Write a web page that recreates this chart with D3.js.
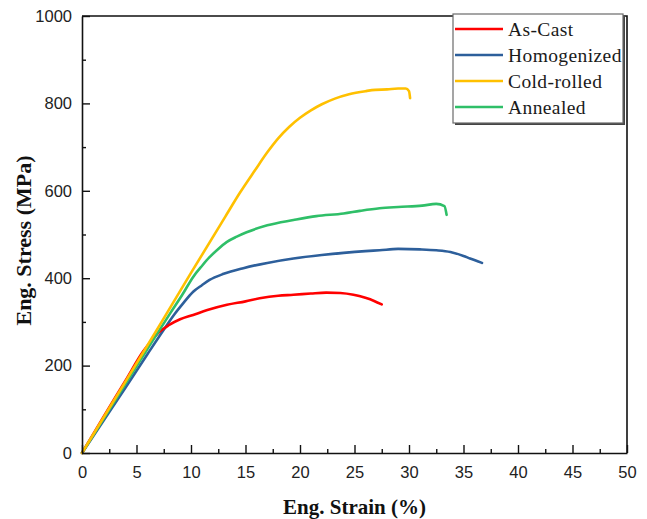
<!DOCTYPE html>
<html>
<head>
<meta charset="utf-8">
<script src="https://cdn.jsdelivr.net/npm/d3@7"></script>
<style>
  html, body { margin: 0; padding: 0; background: #fff; }
  svg { display: block; }
</style>
</head>
<body>
<svg id="chart" width="647" height="519"></svg>
<script>
// Engineering stress–strain curves for the four processing states
const seriesNames = ["As-Cast", "Homogenized", "Cold-rolled", "Annealed"];
const seriesColors = ["#ff0000", "#2d5f9b", "#ffc000", "#2fbf68"];

const asCastStrain = [0, 2, 4, 5.6, 6.4, 7.0, 8.0, 9.0, 10.2, 11.5, 13.3, 15.0, 16.3, 18.0, 19.4, 21.0, 22.4, 23.7, 24.9, 26.0, 26.8, 27.5];
const asCastStress = [0, 84, 166, 232, 258, 275, 293, 306, 316, 327, 339, 347, 354, 360, 362, 365, 367, 366, 362, 355, 348, 340];

const homogenizedStrain = [0, 2, 4, 6, 7.5, 8.5, 9.2, 10.2, 11.0, 11.7, 13.0, 14.8, 17.0, 19.4, 22.0, 24.0, 26.0, 27.3, 29.0, 31.0, 32.5, 33.8, 35.0, 35.6, 36.7];
const homogenizedStress = [0, 75, 150, 226, 282, 318, 340, 369, 384, 396, 410, 423, 435, 445, 453, 458, 462, 464, 467, 466, 464, 460, 451, 445, 435];

const coldRolledStrain = [0, 3, 6, 7.5, 10, 13.15, 14.5, 15.9, 17.0, 18.0, 19.0, 20.0, 21.0, 22.0, 23.2, 24.5, 26.0, 26.9, 28.0, 29.0, 29.7, 30.0, 30.1];
const coldRolledStress = [0, 123, 246, 308, 412, 541, 596, 648, 688, 720, 746, 767, 784, 798, 811, 821, 828, 831, 832, 834, 834, 828, 812];

const annealedStrain = [0, 3, 6, 8.1, 9.2, 10.2, 11.0, 11.7, 12.5, 13.3, 14.2, 15.1, 17.0, 19.4, 21.5, 24.0, 25.5, 27.3, 29.0, 31.2, 32.5, 33.25, 33.45];
const annealedStress = [0, 119, 238, 320, 362, 403, 428, 448, 467, 483, 495, 505, 521, 533, 542, 548, 554, 560, 563, 566, 570, 565, 545];

const xTicks = [0, 5, 10, 15, 20, 25, 30, 35, 40, 45, 50];
const yTicks = [0, 200, 400, 600, 800, 1000];
const xMinorTicks = [2.5, 7.5, 12.5, 17.5, 22.5, 27.5, 32.5, 37.5, 42.5, 47.5];
const yMinorTicks = [100, 300, 500, 700, 900];

const xTitle = "Eng. Strain (%)";
const yTitle = "Eng. Stress (MPa)";

const series = [
  { name: seriesNames[0], color: seriesColors[0], x: asCastStrain, y: asCastStress },
  { name: seriesNames[1], color: seriesColors[1], x: homogenizedStrain, y: homogenizedStress },
  { name: seriesNames[2], color: seriesColors[2], x: coldRolledStrain, y: coldRolledStress },
  { name: seriesNames[3], color: seriesColors[3], x: annealedStrain, y: annealedStress }
];

const plot = { left: 82, right: 627, top: 16, bottom: 453 };
const svg = d3.select("#chart");

const x = d3.scaleLinear().domain([0, 50]).range([plot.left, plot.right]);
const y = d3.scaleLinear().domain([0, 1000]).range([plot.bottom, plot.top]);

// Curves (drawn before the frame so the axes sit on top)
const line = d3.line().x(d => x(d[0])).y(d => y(d[1])).curve(d3.curveMonotoneX);
const drawOrder = [1, 0, 3, 2];
svg.append("g").attr("class", "curves")
  .selectAll("path")
  .data(drawOrder.map(i => series[i]))
  .join("path")
  .attr("d", s => line(s.x.map((v, i) => [v, s.y[i]])))
  .attr("fill", "none")
  .attr("stroke", s => s.color)
  .attr("stroke-width", 2.6)
  .attr("stroke-linejoin", "round")
  .attr("stroke-linecap", "round");

// Frame: top and right edges
svg.append("path")
  .attr("d", `M${plot.left},${plot.top}H${plot.right}V${plot.bottom}`)
  .attr("fill", "none").attr("stroke", "#111").attr("stroke-width", 1.6);

// Bottom axis, ticks pointing inward
const xAxis = svg.append("g").attr("transform", `translate(0,${plot.bottom})`)
  .call(d3.axisBottom(x).tickValues(xTicks).tickFormat(d3.format("d")).tickSize(-8).tickPadding(16).tickSizeOuter(0));
svg.append("g").attr("transform", `translate(0,${plot.bottom})`)
  .call(d3.axisBottom(x).tickValues(xMinorTicks).tickSize(-4).tickFormat("").tickSizeOuter(0))
  .select(".domain").remove();

// Left axis, ticks pointing inward
const yAxis = svg.append("g").attr("transform", `translate(${plot.left},0)`)
  .call(d3.axisLeft(y).tickValues(yTicks).tickFormat(d3.format("d")).tickSize(-8).tickPadding(10).tickSizeOuter(0));
svg.append("g").attr("transform", `translate(${plot.left},0)`)
  .call(d3.axisLeft(y).tickValues(yMinorTicks).tickSize(-4).tickFormat("").tickSizeOuter(0))
  .select(".domain").remove();

svg.selectAll(".domain").attr("stroke", "#111").attr("stroke-width", 1.6);
svg.selectAll(".tick line").attr("stroke", "#111").attr("stroke-width", 1.4);
svg.selectAll(".tick text")
  .attr("font-family", "'Liberation Sans', Arial, sans-serif")
  .attr("font-size", 16.5)
  .attr("fill", "#222");
xAxis.selectAll(".tick text").attr("dy", "0.55em");

// Axis titles
svg.append("text")
  .attr("x", (plot.left + plot.right) / 2)
  .attr("y", 514)
  .attr("text-anchor", "middle")
  .attr("font-family", "'Liberation Serif', 'Times New Roman', serif")
  .attr("font-weight", "bold")
  .attr("font-size", 21)
  .attr("fill", "#111")
  .text(xTitle);

svg.append("text")
  .attr("transform", `translate(31,${(plot.top + plot.bottom) / 2 + 6}) rotate(-90)`)
  .attr("text-anchor", "middle")
  .attr("font-family", "'Liberation Serif', 'Times New Roman', serif")
  .attr("font-weight", "bold")
  .attr("font-size", 22)
  .attr("fill", "#111")
  .text(yTitle);

// Legend box with a slight shadow on its right edge
const legend = svg.append("g").attr("class", "legend");
const lg = { x: 453, y: 14, w: 170, h: 109, row: 26 };
legend.append("rect")
  .attr("x", lg.x + 2).attr("y", lg.y + 2).attr("width", lg.w).attr("height", lg.h)
  .attr("fill", "#444");
legend.append("rect")
  .attr("x", lg.x).attr("y", lg.y).attr("width", lg.w).attr("height", lg.h)
  .attr("fill", "#fff").attr("stroke", "#6a6a6a").attr("stroke-width", 1.2);

const rows = legend.selectAll("g.row").data(series).join("g")
  .attr("class", "row")
  .attr("transform", (d, i) => `translate(${lg.x},${lg.y + 15 + i * lg.row})`);
rows.append("line")
  .attr("x1", 2).attr("x2", 50).attr("y1", 0).attr("y2", 0)
  .attr("stroke", d => d.color).attr("stroke-width", 2.6);
rows.append("text")
  .attr("x", 55).attr("y", 6.5)
  .attr("font-family", "'Liberation Serif', 'Times New Roman', serif")
  .attr("font-size", 19.5)
  .attr("letter-spacing", 0.4)
  .attr("fill", "#1a1a1a")
  .text(d => d.name);
</script>
</body>
</html>
